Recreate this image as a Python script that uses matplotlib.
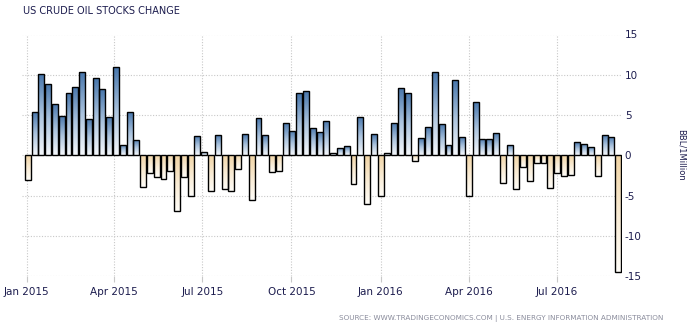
import numpy as np
import pandas as pd
import matplotlib
matplotlib.use("Agg")
import matplotlib.pyplot as plt
import matplotlib.dates as mdates
from matplotlib.colors import LinearSegmentedColormap

# Weekly change in US crude oil inventories (million barrels), week ending Friday
first_week = "2015-01-02"
stock_change = [
    -3.1, 5.4, 10.1, 8.9, 6.4, 4.9, 7.75, 8.5, 10.4, 4.5,
    9.6, 8.25, 4.75, 11.0, 1.25, 5.4, 1.9, -4.0, -2.25, -2.75,
    -2.9, -2.0, -6.9, -2.75, -5.0, 2.4, 0.4, -4.4, 2.5, -4.25,
    -4.5, -1.75, 2.6, -5.5, 4.6, 2.5, -2.1, -2.0, 4.0, 3.0,
    7.7, 8.0, 3.4, 2.9, 4.25, 0.25, 0.9, 1.1, -3.6, 4.75,
    -6.0, 2.6, -5.1, 0.25, 4.0, 8.4, 7.75, -0.75, 2.1, 3.5,
    10.4, 3.9, 1.25, 9.4, 2.25, -5.0, 6.6, 2.0, 2.0, 2.75,
    -3.5, 1.25, -4.25, -1.4, -3.25, -1.0, -1.0, -4.1, -2.25, -2.6,
    -2.4, 1.6, 1.4, 1.0, -2.6, 2.5, 2.25, -14.5,
]
x_tick_dates = ["2015-01-01", "2015-04-01", "2015-07-01", "2015-10-01",
                "2016-01-01", "2016-04-01", "2016-07-01"]
x_tick_labels = ["Jan 2015", "Apr 2015", "Jul 2015", "Oct 2015",
                 "Jan 2016", "Apr 2016", "Jul 2016"]
y_ticks = [-15, -10, -5, 0, 5, 10, 15]

title_text = "US CRUDE OIL STOCKS CHANGE"
unit_text = "BBL/1Million"
source_text = "SOURCE: WWW.TRADINGECONOMICS.COM | U.S. ENERGY INFORMATION ADMINISTRATION"

weeks = pd.date_range(first_week, periods=len(stock_change), freq="7D")
xnum = mdates.date2num(weeks.to_pydatetime())

ink = "#1c1c4e"
grid_c = "#c8c8c8"

pos_cmap = LinearSegmentedColormap.from_list(
    "pos", ["#f5f8fc", "#a9c2dd", "#4574aa"])
neg_cmap = LinearSegmentedColormap.from_list(
    "neg", ["#fffdf8", "#f9ebd3", "#f1d4a4"])
ramp = np.linspace(0, 1, 128).reshape(-1, 1)

fig = plt.figure(figsize=(6.87, 3.27), dpi=100)
ax = fig.add_axes([22 / 687, 1 - 276 / 327, 600 / 687, 241.5 / 327])

xmin = mdates.date2num(pd.Timestamp("2014-12-27"))
xmax = mdates.date2num(pd.Timestamp("2016-09-06"))

bar_w = 6.1
bars = ax.bar(xnum, stock_change, width=bar_w, facecolor="none",
              edgecolor="black", linewidth=1.0, zorder=3)

for rect, v in zip(bars, stock_change):
    x0 = rect.get_x()
    x1 = x0 + rect.get_width()
    if v >= 0:
        img = ax.imshow(ramp, cmap=pos_cmap, origin="lower", aspect="auto",
                        extent=[x0, x1, 0, v], zorder=2, interpolation="bilinear")
    else:
        img = ax.imshow(ramp, cmap=neg_cmap, origin="lower", aspect="auto",
                        extent=[x0, x1, v, 0], zorder=2, interpolation="bilinear")
    img.set_clip_path(rect)

ax.set_xlim(xmin, xmax)
ax.set_ylim(-15, 15)
ax.set_aspect("auto")

ax.set_xticks(mdates.date2num(pd.to_datetime(x_tick_dates).to_pydatetime()))
ax.set_xticklabels(x_tick_labels)
ax.set_yticks(y_ticks)
ax.set_yticklabels([str(t) for t in y_ticks])

ax.yaxis.tick_right()
ax.tick_params(axis="y", length=0, pad=2, labelsize=7.5, labelcolor=ink)
ax.tick_params(axis="x", length=4, width=0.8, color=grid_c, pad=4,
               labelsize=7.5, labelcolor=ink)
for lab in ax.get_yticklabels():
    lab.set_horizontalalignment("left")

ax.grid(True, color=grid_c, linestyle=(0, (1, 1.5)), linewidth=0.8, zorder=0)
ax.set_axisbelow(True)
for s in ax.spines.values():
    s.set_visible(False)

fig.text(23 / 687, 1 - 10.5 / 327, title_text, fontsize=7.0, color=ink,
         family="DejaVu Sans", va="center", ha="left")
fig.text(681 / 687, 1 - 155 / 327, unit_text, fontsize=6.0, color=ink,
         rotation=270, va="center", ha="center")
fig.text(663 / 687, 1 - 318 / 327, source_text, fontsize=5.2, color="#8a8c9c",
         va="center", ha="right")

fig.savefig("out.png", dpi=100)
